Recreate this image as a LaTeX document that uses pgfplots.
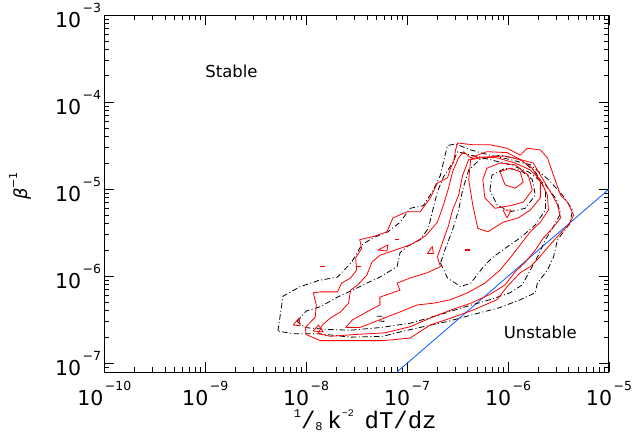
\documentclass[border=0pt]{standalone}
\usepackage{pgfplots}
\pgfplotsset{compat=1.18}
\usepackage{fontspec}
\setmainfont{DejaVu Sans}
\newfontfamily\monofont{Liberation Mono}
\usepackage{graphicx}
\newcommand\tl[1]{\raisebox{0pt}[\height][0pt]{10\kern1.5pt\raisebox{0.72em}{\fontsize{12.5}{14}\selectfont −#1}}}
\definecolor{lineblue}{rgb}{0.1,0.4,1}
\pgfplotsset{
  bk/.style={black, line width=0.8pt, dash pattern=on 5.5pt off 2.5pt on 1pt off 2.5pt, line join=round},
  rd/.style={red, line width=0.8pt, line join=round},
}
\begin{document}
\begin{tikzpicture}
\begin{axis}[
  at={(0pt,0pt)}, anchor=south west,
  scale only axis, width=504.7pt, height=357pt,
  xmode=log, ymode=log,
  xmin=1e-10, xmax=1e-5, ymin=7.943e-8, ymax=1e-3,
  xtick={1e-10,1e-9,1e-8,1e-7,1e-6,1e-5},
  xticklabels={\tl{10},\tl{9},\tl{8},\tl{7},\tl{6},\tl{5}},
  minor xtick={2e-10,3e-10,4e-10,5e-10,6e-10,7e-10,8e-10,9e-10,
    2e-9,3e-9,4e-9,5e-9,6e-9,7e-9,8e-9,9e-9,
    2e-8,3e-8,4e-8,5e-8,6e-8,7e-8,8e-8,9e-8,
    2e-7,3e-7,4e-7,5e-7,6e-7,7e-7,8e-7,9e-7,
    2e-6,3e-6,4e-6,5e-6,6e-6,7e-6,8e-6,9e-6},
  ytick={1e-7,1e-6,1e-5,1e-4,1e-3},
  yticklabels={\tl{7},\tl{6},\tl{5},\tl{4},\tl{3}},
  minor ytick={9e-8,
    2e-7,3e-7,4e-7,5e-7,6e-7,7e-7,8e-7,9e-7,
    2e-6,3e-6,4e-6,5e-6,6e-6,7e-6,8e-6,9e-6,
    2e-5,3e-5,4e-5,5e-5,6e-5,7e-5,8e-5,9e-5,
    2e-4,3e-4,4e-4,5e-4,6e-4,7e-4,8e-4,9e-4},
  tick align=inside,
  major tick length=10pt, minor tick length=5pt,
  every tick/.style={black, line width=0.8pt},
  axis line style={line width=1pt},
  ticklabel style={font=\fontsize{20.5}{24}\selectfont},
  xticklabel style={inner sep=0pt, yshift=-9pt},
  yticklabel style={inner sep=0pt, xshift=-3pt},
  xlabel={\raisebox{0pt}[16pt][0pt]{\monofont\fontsize{24}{26}\selectfont\raisebox{0.42em}{\fontsize{12}{12}\selectfont 1}/\raisebox{-0.12em}{\fontsize{12}{12}\selectfont 8}\kern0.2em k\raisebox{0.5em}{\fontsize{10}{10}\selectfont −2}\kern0.45em dT/dz}},
  x label style={at={(axis description cs:0.517,0)}, anchor=base, yshift=-56pt, inner sep=0pt},
  ylabel={\fontsize{18}{20}\selectfont\textit{β}\raisebox{0.55em}{\fontsize{11}{12}\selectfont −1}},
  y label style={at={(axis description cs:-0.167,0.521)}, anchor=center},
]
\addplot[lineblue, line width=0.9pt] coordinates {(7.943e-8,7.943e-8) (1e-5,1e-5)};
\node[anchor=base, font=\fontsize{16.5}{18}\selectfont] at (axis cs:1.82e-9,1.93e-4) {Stable};
\node[anchor=base, font=\fontsize{16.5}{18}\selectfont] at (axis cs:2.09e-6,1.94e-7) {Unstable};
\end{axis}
\begin{axis}[
  at={(0pt,0pt)}, anchor=south west,
  scale only axis, width=504.7pt, height=357pt,
  xmin=-10, xmax=-5, ymin=-7.1, ymax=-3, hide axis,
]
% black dash-dot contours (log10 coordinates)
\addplot[bk] coordinates {(-8.28,-6.63) (-8.23,-6.23) (-8.06,-6.12) (-7.88,-6.05) (-7.69,-6.01) (-7.55,-5.84) (-7.45,-5.64) (-7.34,-5.56) (-7.19,-5.49) (-7.07,-5.38) (-6.97,-5.22) (-6.84,-5.19) (-6.74,-5.01) (-6.67,-4.84) (-6.63,-4.64) (-6.60,-4.50) (-6.52,-4.48) (-6.37,-4.55) (-6.18,-4.61) (-5.98,-4.66) (-5.78,-4.72) (-5.60,-4.89) (-5.46,-5.07) (-5.36,-5.24) (-5.39,-5.40) (-5.51,-5.58) (-5.55,-5.78) (-5.61,-5.93) (-5.71,-6.08) (-5.73,-6.19) (-5.88,-6.27) (-6.08,-6.36) (-6.28,-6.42) (-6.60,-6.52) (-6.84,-6.58) (-7.07,-6.64) (-7.24,-6.69) (-7.56,-6.70) (-7.88,-6.66) (-8.13,-6.66) (-8.28,-6.63)};
\addplot[bk] coordinates {(-8.09,-6.52) (-8.00,-6.40) (-7.86,-6.35) (-7.69,-6.24) (-7.54,-6.16) (-7.40,-6.08) (-7.27,-6.01) (-7.10,-5.89) (-7.07,-5.73) (-7.00,-5.66) (-6.87,-5.58) (-6.79,-5.45) (-6.75,-5.26) (-6.70,-5.03) (-6.64,-4.86) (-6.55,-4.70) (-6.50,-4.57) (-6.37,-4.61) (-6.18,-4.66) (-5.98,-4.72) (-5.80,-4.80) (-5.63,-4.95) (-5.52,-5.12) (-5.48,-5.28) (-5.56,-5.45) (-5.63,-5.58) (-5.70,-5.76) (-5.78,-5.93) (-5.86,-6.10) (-5.98,-6.19) (-6.18,-6.27) (-6.42,-6.35) (-6.67,-6.44) (-6.97,-6.54) (-7.27,-6.59) (-7.56,-6.62) (-7.81,-6.61) (-8.01,-6.59) (-8.09,-6.52)};
\addplot[bk] coordinates {(-6.67,-5.85) (-6.60,-6.02) (-6.47,-6.12) (-6.37,-6.08) (-6.25,-5.90) (-6.16,-5.79) (-6.03,-5.68) (-5.88,-5.56) (-5.73,-5.41) (-5.63,-5.24) (-5.63,-5.01) (-5.73,-4.80) (-5.88,-4.66) (-6.08,-4.61) (-6.28,-4.66) (-6.39,-4.78) (-6.45,-5.01) (-6.49,-5.24) (-6.55,-5.47) (-6.62,-5.68) (-6.67,-5.85)};
\addplot[bk] coordinates {(-6.18,-5.01) (-6.16,-4.84) (-6.03,-4.76) (-5.88,-4.78) (-5.76,-4.89) (-5.73,-5.07) (-5.83,-5.22) (-5.98,-5.26) (-6.11,-5.18) (-6.18,-5.01)};
\addplot[bk] coordinates {(-7.30,-6.46) (-7.23,-6.46) (-7.23,-6.52) (-7.29,-6.51)};
% red contours
\addplot[rd] coordinates {(-8.00,-6.67) (-8.01,-6.59) (-7.91,-6.47) (-7.90,-6.33) (-7.93,-6.19) (-7.86,-6.18) (-7.69,-6.18) (-7.65,-6.08) (-7.56,-6.02) (-7.50,-5.93) (-7.51,-5.79) (-7.45,-5.68) (-7.47,-5.58) (-7.32,-5.54) (-7.20,-5.49) (-7.14,-5.33) (-7.00,-5.26) (-6.87,-5.26) (-6.77,-5.10) (-6.70,-4.93) (-6.60,-4.87) (-6.57,-4.76) (-6.54,-4.69) (-6.52,-4.55) (-6.50,-4.47) (-6.35,-4.49) (-6.18,-4.49) (-6.01,-4.53) (-5.88,-4.61) (-5.81,-4.53) (-5.68,-4.55) (-5.61,-4.64) (-5.55,-4.84) (-5.48,-5.07) (-5.41,-5.15) (-5.35,-5.30) (-5.40,-5.41) (-5.50,-5.53) (-5.63,-5.70) (-5.71,-5.81) (-5.78,-5.89) (-5.88,-5.96) (-6.01,-6.12) (-6.11,-6.27) (-6.35,-6.39) (-6.54,-6.47) (-6.77,-6.56) (-6.97,-6.71) (-7.24,-6.74) (-7.56,-6.74) (-7.86,-6.74) (-8.00,-6.67)};
\addplot[rd] coordinates {(-7.88,-6.66) (-7.84,-6.56) (-7.76,-6.48) (-7.66,-6.41) (-7.58,-6.31) (-7.56,-6.16) (-7.49,-6.10) (-7.40,-5.99) (-7.35,-5.84) (-7.27,-5.76) (-7.12,-5.70) (-6.97,-5.64) (-6.82,-5.54) (-6.70,-5.38) (-6.64,-5.18) (-6.59,-4.99) (-6.55,-4.80) (-6.49,-4.64) (-6.44,-4.57) (-6.37,-4.64) (-6.21,-4.57) (-6.01,-4.58) (-5.88,-4.66) (-5.75,-4.70) (-5.68,-4.84) (-5.58,-5.03) (-5.51,-5.18) (-5.48,-5.33) (-5.56,-5.45) (-5.65,-5.56) (-5.73,-5.70) (-5.83,-5.84) (-5.93,-5.95) (-6.03,-6.10) (-6.18,-6.21) (-6.37,-6.31) (-6.57,-6.39) (-6.77,-6.48) (-6.97,-6.58) (-7.22,-6.65) (-7.52,-6.67) (-7.76,-6.69) (-7.88,-6.66)};
\addplot[rd] coordinates {(-7.61,-6.59) (-7.54,-6.50) (-7.40,-6.41) (-7.27,-6.33) (-7.27,-6.24) (-7.07,-6.16) (-7.10,-6.08) (-6.97,-6.02) (-6.80,-5.96) (-6.67,-5.89) (-6.70,-5.78) (-6.64,-5.58) (-6.59,-5.42) (-6.55,-5.24) (-6.49,-5.07) (-6.45,-4.84) (-6.39,-4.66) (-6.28,-4.63) (-6.11,-4.64) (-5.93,-4.70) (-5.78,-4.78) (-5.68,-4.89) (-5.61,-5.07) (-5.60,-5.24) (-5.68,-5.38) (-5.78,-5.49) (-5.88,-5.64) (-5.98,-5.79) (-6.08,-5.93) (-6.23,-6.08) (-6.40,-6.19) (-6.57,-6.27) (-6.74,-6.31) (-6.90,-6.33) (-7.07,-6.41) (-7.27,-6.50) (-7.47,-6.59) (-7.61,-6.59)};
\addplot[rd] coordinates {(-6.37,-4.66) (-6.39,-4.89) (-6.35,-5.18) (-6.30,-5.45) (-6.20,-5.49) (-6.05,-5.38) (-5.90,-5.33) (-5.78,-5.24) (-5.68,-5.10) (-5.68,-4.92) (-5.76,-4.76) (-5.88,-4.66) (-6.03,-4.62) (-6.21,-4.63) (-6.37,-4.66)};
\addplot[rd] coordinates {(-6.25,-4.89) (-6.21,-4.76) (-6.08,-4.70) (-5.93,-4.72) (-5.80,-4.84) (-5.76,-5.01) (-5.85,-5.15) (-5.98,-5.19) (-6.13,-5.22) (-6.23,-5.10) (-6.25,-4.89)};
\addplot[rd] coordinates {(-6.08,-4.80) (-5.98,-4.76) (-5.88,-4.80) (-5.85,-4.92) (-5.93,-4.99) (-6.03,-4.95) (-6.08,-4.80)};
% small red islands
\addplot[rd] coordinates {(-8.13,-6.56) (-8.07,-6.48) (-8.06,-6.57) (-8.13,-6.56)};
\addplot[rd] coordinates {(-7.93,-6.63) (-7.88,-6.56) (-7.83,-6.64) (-7.93,-6.63)};
\addplot[rd] coordinates {(-7.29,-5.70) (-7.19,-5.64) (-7.20,-5.71) (-7.29,-5.70)};
\addplot[rd] coordinates {(-6.80,-5.74) (-6.75,-5.66) (-6.74,-5.74) (-6.80,-5.74)};
\addplot[rd] coordinates {(-6.05,-5.24) (-5.97,-5.24) (-6.01,-5.33) (-6.05,-5.24)};
\addplot[rd, line width=1.6pt] coordinates {(-7.86,-5.89) (-7.81,-5.89)};
\addplot[rd, line width=1.6pt] coordinates {(-7.51,-5.89) (-7.46,-5.89)};
\addplot[rd, line width=1.6pt] coordinates {(-7.12,-5.58) (-7.08,-5.58)};
\addplot[rd, line width=1.6pt] coordinates {(-6.43,-5.70) (-6.38,-5.70)};
\end{axis}
\pgfresetboundingbox
\path[use as bounding box] (-104.3pt,-71pt) rectangle (529.7pt,372pt);
\end{tikzpicture}
\end{document}
